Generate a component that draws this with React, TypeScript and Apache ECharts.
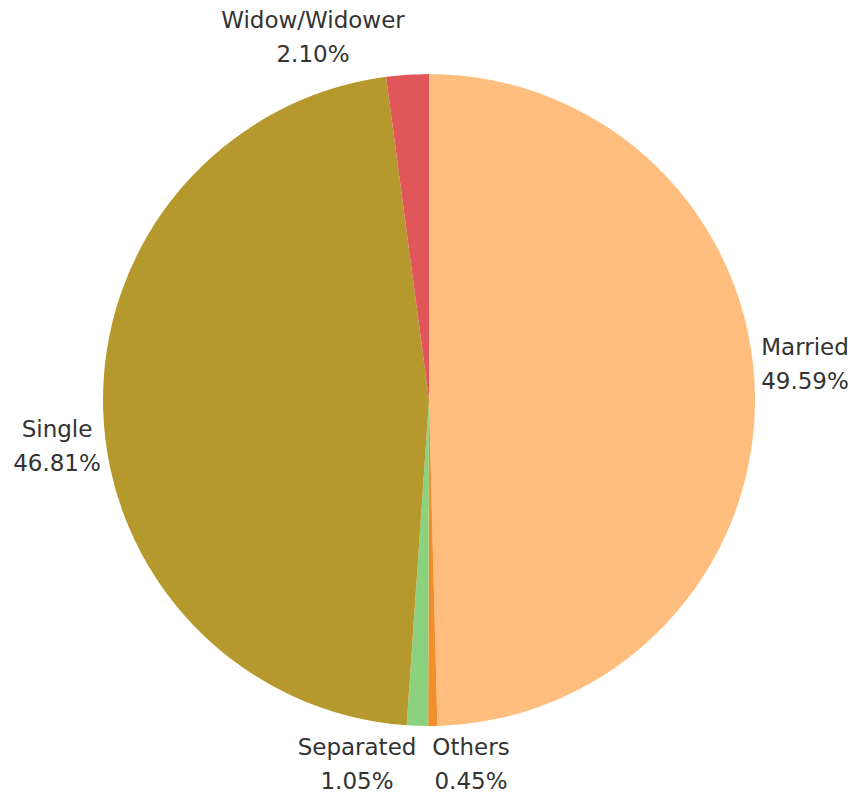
import React, { useEffect, useRef } from "react";
import * as echarts from "echarts";

const categories = ["Married", "Others", "Separated", "Single", "Widow/Widower"];
const values = [49.59, 0.45, 1.05, 46.81, 2.1];
const colors = ["#FFBE7D", "#F28E2B", "#8CD17D", "#B6992D", "#E15759"];

// label anchor positions, tuned to match the reference layout
const labelSpots: Array<[number, number]> = [
  [805, 364],
  [471, 764],
  [357, 764],
  [57, 446],
  [313, 37],
];

export default function App() {
  const ref = useRef<HTMLDivElement>(null);
  useEffect(() => {
    document.body.style.margin = "0";
    const chart = echarts.init(ref.current!, null, { renderer: "svg" });
    chart.setOption({
      animation: false,
      series: [
        {
          type: "pie",
          center: [429, 400],
          radius: [0, 326],
          startAngle: 90,
          clockwise: true,
          data: categories.map((name, i) => ({
            name,
            value: values[i],
            itemStyle: { color: colors[i] },
          })),
          itemStyle: { borderWidth: 0 },
          label: {
            show: true,
            position: "outside",
            formatter: (p: any) => `${p.name}\n${values[p.dataIndex].toFixed(2)}%`,
            color: "#333",
            fontFamily: "DejaVu Sans",
            fontSize: 23,
            lineHeight: 34,
            align: "center",
            overflow: "none",
            width: 220,
          },
          labelLine: { show: false },
          labelLayout: (params: any) => ({
            x: labelSpots[params.dataIndex][0],
            y: labelSpots[params.dataIndex][1],
            align: "center",
            verticalAlign: "middle",
          }),
          emphasis: { disabled: true },
        },
      ],
    });
    return () => chart.dispose();
  }, []);
  return <div ref={ref} style={{ width: 854, height: 796 }} />;
}
